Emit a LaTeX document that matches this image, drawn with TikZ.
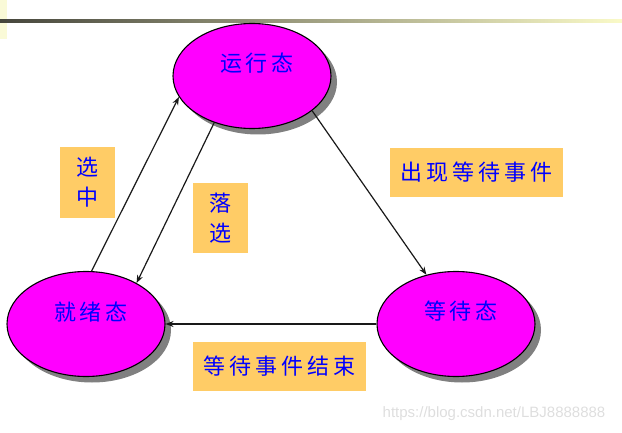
\documentclass[tikz,border=0pt]{standalone}
\usepackage{fontspec}
\setmainfont{Liberation Sans}
\newfontfamily\cjk{Noto Sans CJK SC}
\usetikzlibrary{shapes.geometric,shadows,arrows.meta}
\definecolor{mag}{RGB}{255,0,255}
\definecolor{blu}{RGB}{0,0,255}
\definecolor{labelor}{RGB}{255,204,102}
\definecolor{barL}{RGB}{70,70,60}
\definecolor{barM}{RGB}{205,205,165}
\definecolor{barR}{RGB}{250,250,200}
\definecolor{corner}{RGB}{250,250,215}
\newcommand\gp{\hspace{4pt}}
\begin{document}
\begin{tikzpicture}[x=1pt,y=-1pt,
  state/.style={ellipse, draw=black, line width=1.1pt, fill=mag,
    minimum width=158pt, minimum height=105pt, inner sep=0pt,
    drop shadow={shadow xshift=6pt, shadow yshift=-6pt, opacity=1, fill=gray}},
  cjktext/.style={font=\cjk\fontsize{22}{30}\selectfont, text=blu},
  lbl/.style={cjktext, fill=labelor, inner sep=0pt, align=center},
  conn/.style={-{Stealth[length=8pt,width=6pt]}, line width=1.2pt, black!90}]
\useasboundingbox (0,0) rectangle (622,433);
\fill[corner] (0,0) rectangle (7,39);
\fill[left color=barL, middle color=barM, right color=barR] (0,19.5) rectangle (622,22.5);

\node[state, label={[cjktext, xshift=5pt, yshift=13pt]center:运\gp 行\gp 态}] (run) at (252,76) {};
\node[state, label={[cjktext, xshift=5pt, yshift=12pt]center:就\gp 绪\gp 态}] (rdy) at (86,324) {};
\node[state, label={[cjktext, xshift=5pt, yshift=13pt]center:等\gp 待\gp 态}] (wait) at (456,324) {};

\draw[conn] (rdy.84) -- (run.196);
\draw[conn] (run.231) -- (rdy.39);
\draw[conn] (run.330) -- (wait.121);
\draw[conn] (wait.180) -- (rdy.0);

\node[lbl, minimum width=55pt, minimum height=71pt] (l1) at (87.5,182.5) {选\\中};
\node[lbl, minimum width=55pt, minimum height=70pt] (l2) at (220.5,218) {落\\选};
\node[lbl, minimum width=173pt, minimum height=49pt] (l3) at (476.5,172.5) {出\gp 现\gp 等\gp 待\gp 事\gp 件};
\node[lbl, minimum width=173pt, minimum height=49pt] (l4) at (279.5,366.5) {等\gp 待\gp 事\gp 件\gp 结\gp 束};

\node[font=\fontsize{15}{17}\selectfont, text=black!13, inner sep=0pt] (wm) at (494,414) {https://blog.csdn.net/LBJ8888888};
\end{tikzpicture}
\end{document}
